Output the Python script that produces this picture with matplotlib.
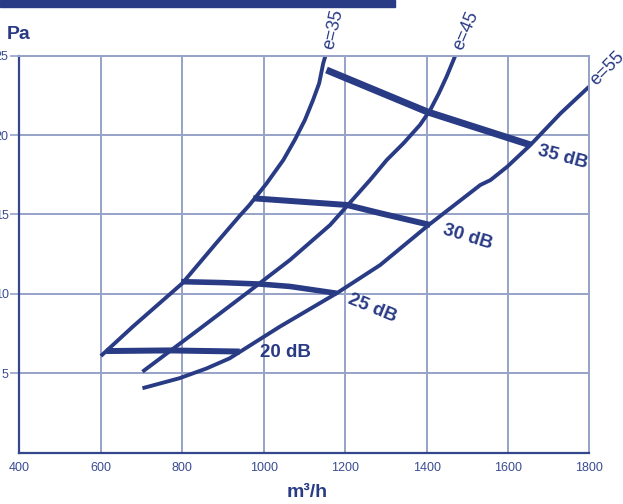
import matplotlib
matplotlib.use("Agg")
import matplotlib.pyplot as plt
from matplotlib.patches import Rectangle

plt.rcParams["font.family"] = ["Liberation Sans", "DejaVu Sans"]

NAVY = "#293b85"
GRID = "#97a2c8"
TICK = "#3a4c92"

# air flow (m3/h) / pressure (Pa)
e35_x = [600, 678, 800, 883, 941, 965, 1007, 1048, 1076, 1101, 1121, 1136, 1146, 1151]
e35_y = [6.09, 7.93, 10.67, 13.19, 14.92, 15.60, 16.96, 18.43, 19.69, 20.95, 22.21, 23.26, 24.52, 24.95]

e45_x = [702, 842, 965, 1064, 1163, 1261, 1302, 1343, 1384, 1409, 1430, 1449, 1466, 1471]
e45_y = [5.10, 7.79, 10.18, 12.13, 14.34, 17.17, 18.43, 19.48, 20.65, 21.59, 22.63, 23.68, 24.73, 25.05]

e55_x = [702, 793, 859, 916, 997, 1039, 1179, 1286, 1405, 1532, 1557, 1598, 1655, 1729, 1799]
e55_y = [4.06, 4.69, 5.30, 5.94, 7.25, 7.93, 10.04, 11.82, 14.34, 16.86, 17.17, 18.01, 19.38, 21.37, 23.05]

db20_x = [613, 768, 941]
db20_y = [6.40, 6.44, 6.37]
db25_x = [797, 899, 990, 1064, 1179]
db25_y = [10.77, 10.71, 10.62, 10.47, 10.04]
db30_x = [974, 1039, 1204, 1286, 1409]
db30_y = [16.02, 15.90, 15.60, 15.08, 14.34]
db35_x = [1154, 1401, 1655]
db35_y = [24.10, 21.47, 19.38]

x_ticks = [400, 600, 800, 1000, 1200, 1400, 1600, 1800]
y_ticks = [5, 10, 15, 20, 25]

fig = plt.figure(figsize=(6.23, 5.04), dpi=100)
ax = fig.add_axes([0.0313, 0.1018, 0.9149, 0.7877])

ax.set_xlim(400, 1800)
ax.set_ylim(0, 25)
ax.set_xticks(x_ticks)
ax.set_yticks(y_ticks)
ax.grid(True, color=GRID, linewidth=1.4)
ax.set_axisbelow(True)

for side in ("top", "right"):
    ax.spines[side].set_color(GRID)
    ax.spines[side].set_linewidth(1.4)
for side in ("left", "bottom"):
    ax.spines[side].set_color("#34468c")
    ax.spines[side].set_linewidth(1.6)

ax.tick_params(axis="x", length=0, pad=7, labelsize=9, labelcolor=TICK)
ax.tick_params(axis="y", length=6.8, width=1.2, color=GRID, pad=1,
               labelsize=9, labelcolor=TICK)

for xs, ys in [(e35_x, e35_y), (e45_x, e45_y), (e55_x, e55_y)]:
    ax.plot(xs, ys, color=NAVY, linewidth=2.8, solid_capstyle="butt",
            solid_joinstyle="round")

for xs, ys, lw in [(db20_x, db20_y, 4.3), (db25_x, db25_y, 4.0),
                   (db30_x, db30_y, 4.3), (db35_x, db35_y, 5.0)]:
    ax.plot(xs, ys, color=NAVY, linewidth=lw, solid_capstyle="butt",
            solid_joinstyle="round")

e_labels = [("e=35", 1171, 26.65, 77), ("e=45", 1496, 26.6, 67),
            ("e=55", 1843, 24.2, 45)]
for txt, x, y, rot in e_labels:
    ax.text(x, y, txt, color=NAVY, fontsize=13, rotation=rot,
            rotation_mode="anchor", ha="center", va="center", clip_on=False)

db_labels = [("20 dB", 1054, 6.28, 0), ("25 dB", 1266, 9.11, -22),
             ("30 dB", 1500, 13.6, -17), ("35 dB", 1734, 18.6, -15)]
for txt, x, y, rot in db_labels:
    ax.text(x, y, txt, color=NAVY, fontsize=13.5, fontweight="bold",
            rotation=rot, rotation_mode="anchor", ha="center", va="center",
            clip_on=False)

fig.text(0.0305, 0.9306, "Pa", color=NAVY, fontsize=14, fontweight="bold",
         ha="center", va="center")
fig.text(0.4928, 0.022, "m³/h", color=NAVY, fontsize=14, fontweight="bold",
         ha="center", va="center")

fig.patches.append(Rectangle((0, 1 - 7 / 504), 395 / 623, 7 / 504,
                             transform=fig.transFigure, color=NAVY))

fig.savefig("out.png", dpi=100)
